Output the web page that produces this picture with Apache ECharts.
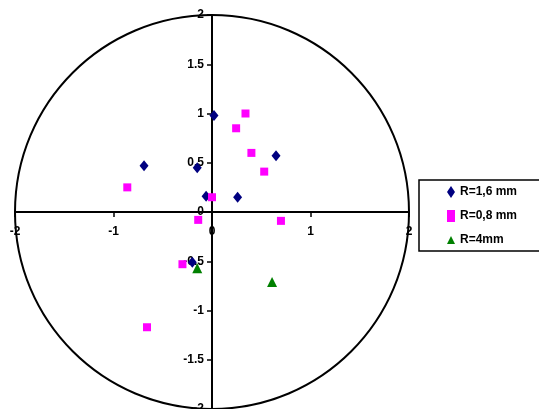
<!DOCTYPE html>
<html>
<head>
<meta charset="utf-8">
<script src="https://cdn.jsdelivr.net/npm/echarts@6/dist/echarts.min.js"></script>
<style>html,body{margin:0;padding:0;background:#fff;}#c{width:539px;height:409px;}</style>
</head>
<body>
<div id="c"></div>
<script>
const seriesNames = ['R=1,6 mm', 'R=0,8 mm', 'R=4mm'];
const r16 = [[0.02,0.98],[-0.69,0.47],[-0.15,0.45],[0.65,0.57],[-0.06,0.16],[0.26,0.15],[-0.20,-0.51]];
const r08 = [[0.34,1.00],[0.245,0.85],[0.40,0.60],[0.53,0.41],[-0.86,0.25],[0.00,0.15],[-0.14,-0.08],[0.70,-0.09],[-0.30,-0.53],[-0.66,-1.17]];
const r4 = [[-0.15,-0.57],[0.61,-0.71]];
const axisMin = -2, axisMax = 2, axisStep = 0.5, xStep = 1;
const circleRadius = 2;

const font = 'Liberation Sans, Arial, sans-serif';
const gridW = 394, gridH = 394;
const chart = echarts.init(document.getElementById('c'), null, {renderer: 'canvas'});
const axisCommon = {
  type: 'value', min: axisMin, max: axisMax,
  splitLine: {show: false},
  axisLine: {onZero: false, lineStyle: {color: '#000', width: 2}},
  axisTick: {show: true, inside: false, length: 5, lineStyle: {color: '#000', width: 1.5}},
  axisLabel: {color: '#000', fontFamily: font, fontWeight: 'bold', fontSize: 12}
};
const zeroFrac = (0 - axisMin) / (axisMax - axisMin);
chart.setOption({
  animation: false,
  backgroundColor: '#fff',
  grid: {left: 15, top: 15, width: gridW, height: gridH, containLabel: false, outerBoundsMode: 'none'},
  xAxis: Object.assign({}, axisCommon, {position: 'bottom', offset: -gridH * zeroFrac, interval: xStep,
    axisLabel: Object.assign({}, axisCommon.axisLabel, {margin: 14})}),
  yAxis: Object.assign({}, axisCommon, {position: 'left', offset: -gridW * zeroFrac, interval: axisStep,
    axisLabel: Object.assign({}, axisCommon.axisLabel, {margin: 8})}),
  legend: {
    orient: 'vertical', left: 419, top: 180,
    padding: [5, 45, 4, 28], itemGap: 10, itemWidth: 8, itemHeight: 14,
    borderColor: '#000', borderWidth: 1.5, backgroundColor: '#fff',
    textStyle: {color: '#000', fontFamily: font, fontWeight: 'bold', fontSize: 12, lineHeight: 14},
    data: [
      {name: seriesNames[0], icon: 'path://M3,0L6,4.5L3,9L0,4.5Z', itemStyle: {color: '#000080'}},
      {name: seriesNames[1], icon: 'path://M0,0L6,0L6,9L0,9Z', itemStyle: {color: '#FF00FF'}},
      {name: seriesNames[2], icon: 'path://M4,0L8,8L0,8Z', itemStyle: {color: '#008000'}}
    ]
  },
  series: [
    {name: seriesNames[0], type: 'scatter', data: r16, symbol: 'diamond', symbolSize: [9, 11], itemStyle: {color: '#000080', opacity: 1}, z: 3},
    {name: seriesNames[1], type: 'scatter', data: r08, symbol: 'rect', symbolSize: 8, itemStyle: {color: '#FF00FF', opacity: 1}, z: 4},
    {name: seriesNames[2], type: 'scatter', data: r4, symbol: 'triangle', symbolSize: 10, itemStyle: {color: '#008000', opacity: 1}, z: 5}
  ]
});
function drawCircle() {
  const c = chart.convertToPixel({gridIndex: 0}, [0, 0]);
  const e = chart.convertToPixel({gridIndex: 0}, [circleRadius, 0]);
  const t = chart.convertToPixel({gridIndex: 0}, [0, circleRadius]);
  chart.setOption({
    graphic: [{
      type: 'ellipse', z: 1, silent: true,
      shape: {cx: c[0], cy: c[1], rx: Math.abs(e[0] - c[0]), ry: Math.abs(c[1] - t[1])},
      style: {fill: 'none', stroke: '#000', lineWidth: 2}
    }]
  });
}
drawCircle();
</script>
</body>
</html>
